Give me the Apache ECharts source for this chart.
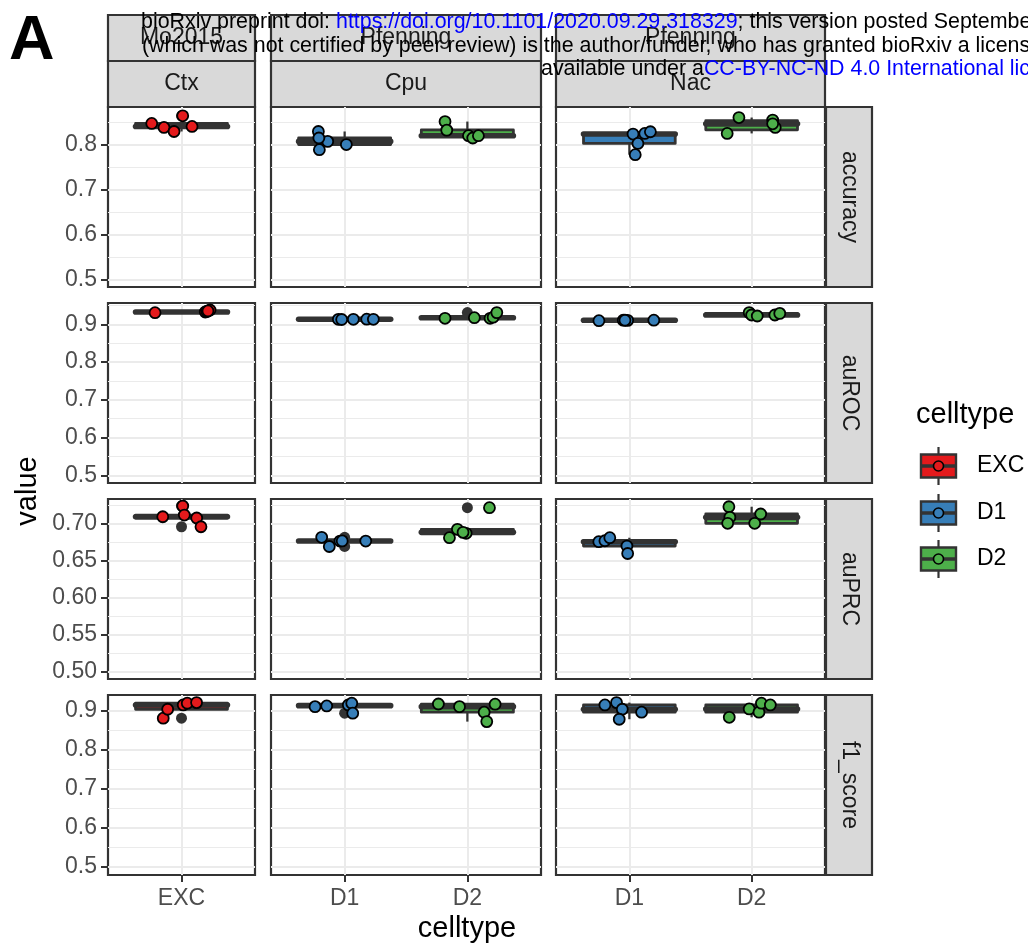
<!DOCTYPE html>
<html>
<head>
<meta charset="utf-8">
<title>celltype metrics</title>
<script src="https://cdn.jsdelivr.net/npm/echarts@6/dist/echarts.min.js"></script>
<style>
  html, body { margin: 0; padding: 0; background: #fff; }
  #chart { width: 1028px; height: 944px; }
</style>
</head>
<body>
<div id="chart"></div>
<script>
var metrics = ['accuracy', 'auROC', 'auPRC', 'f1_score'];
var studies = ['Mo2015', 'Pfenning', 'Pfenning'];
var regions = ['Ctx', 'Cpu', 'Nac'];
var regionCells = [['EXC'], ['D1', 'D2'], ['D1', 'D2']];
var legendCells = ['EXC', 'D1', 'D2'];

// y ticks and limits for each metric row
var accuracyTicks = [0.5, 0.6, 0.7, 0.8];
var aurocTicks = [0.5, 0.6, 0.7, 0.8, 0.9];
var auprcTicks = [0.50, 0.55, 0.60, 0.65, 0.70];
var f1Ticks = [0.5, 0.6, 0.7, 0.8, 0.9];
var accuracyLimits = [0.4844, 0.8844];
var aurocLimits = [0.4796, 0.9565];
var auprcLimits = [0.4895, 0.7340];
var f1Limits = [0.4795, 0.9400];

// jittered points: region, celltype, jitter offset, value
var accuracyPoints = [
  ['Ctx', 'EXC', -0.243, 0.8478], ['Ctx', 'EXC', -0.143, 0.839], ['Ctx', 'EXC', -0.061, 0.830], ['Ctx', 'EXC', 0.010, 0.8648], ['Ctx', 'EXC', 0.086, 0.8412],
  ['Cpu', 'D1', -0.214, 0.830], ['Cpu', 'D1', -0.206, 0.7896], ['Cpu', 'D1', -0.138, 0.808], ['Cpu', 'D1', 0.014, 0.801], ['Cpu', 'D1', -0.21, 0.8155],
  ['Cpu', 'D2', -0.182, 0.852], ['Cpu', 'D2', -0.168, 0.833], ['Cpu', 'D2', 0.009, 0.8206], ['Cpu', 'D2', 0.044, 0.8155], ['Cpu', 'D2', 0.09, 0.8206],
  ['Nac', 'D1', 0.03, 0.8243], ['Nac', 'D1', 0.126, 0.8257], ['Nac', 'D1', 0.172, 0.8294], ['Nac', 'D1', 0.07, 0.8035], ['Nac', 'D1', 0.048, 0.7785],
  ['Nac', 'D2', -0.104, 0.861], ['Nac', 'D2', -0.2, 0.8257], ['Nac', 'D2', 0.172, 0.8553], ['Nac', 'D2', 0.193, 0.839], ['Nac', 'D2', 0.172, 0.847]
];
var aurocPoints = [
  ['Ctx', 'EXC', -0.216, 0.9308], ['Ctx', 'EXC', 0.194, 0.9326], ['Ctx', 'EXC', 0.207, 0.934], ['Ctx', 'EXC', 0.233, 0.9379], ['Ctx', 'EXC', 0.216, 0.9355],
  ['Cpu', 'D1', -0.051, 0.9133], ['Cpu', 'D1', -0.024, 0.9128], ['Cpu', 'D1', 0.071, 0.9133], ['Cpu', 'D1', 0.18, 0.9136], ['Cpu', 'D1', 0.234, 0.9133],
  ['Cpu', 'D2', -0.182, 0.916], ['Cpu', 'D2', 0.057, 0.9175], ['Cpu', 'D2', 0.185, 0.916], ['Cpu', 'D2', 0.21, 0.919], ['Cpu', 'D2', 0.24, 0.931],
  ['Nac', 'D1', -0.249, 0.9096], ['Nac', 'D1', -0.05, 0.911], ['Nac', 'D1', -0.014, 0.9105], ['Nac', 'D1', 0.2, 0.911], ['Nac', 'D1', -0.036, 0.9108],
  ['Nac', 'D2', -0.02, 0.931], ['Nac', 'D2', 0, 0.9247], ['Nac', 'D2', 0.046, 0.922], ['Nac', 'D2', 0.19, 0.9247], ['Nac', 'D2', 0.23, 0.929]
];
var auprcPoints = [
  ['Ctx', 'EXC', -0.153, 0.7099], ['Ctx', 'EXC', 0.01, 0.7245], ['Ctx', 'EXC', 0.023, 0.7122], ['Ctx', 'EXC', 0.124, 0.7082], ['Ctx', 'EXC', 0.159, 0.6963],
  ['Cpu', 'D1', -0.187, 0.682], ['Cpu', 'D1', -0.125, 0.6695], ['Cpu', 'D1', -0.038, 0.6769], ['Cpu', 'D1', 0.172, 0.6769], ['Cpu', 'D1', -0.02, 0.6771],
  ['Cpu', 'D2', -0.146, 0.6814], ['Cpu', 'D2', -0.081, 0.6928], ['Cpu', 'D2', -0.01, 0.6874], ['Cpu', 'D2', 0.18, 0.7222], ['Cpu', 'D2', -0.035, 0.6887],
  ['Nac', 'D1', -0.25, 0.676], ['Nac', 'D1', -0.2, 0.6773], ['Nac', 'D1', -0.16, 0.6814], ['Nac', 'D1', -0.02, 0.6701], ['Nac', 'D1', -0.014, 0.660],
  ['Nac', 'D2', -0.186, 0.7235], ['Nac', 'D2', -0.178, 0.7091], ['Nac', 'D2', -0.196, 0.701], ['Nac', 'D2', 0.074, 0.7136], ['Nac', 'D2', 0.025, 0.701]
];
var f1Points = [
  ['Ctx', 'EXC', -0.149, 0.8806], ['Ctx', 'EXC', -0.113, 0.9036], ['Ctx', 'EXC', 0.014, 0.9146], ['Ctx', 'EXC', 0.047, 0.919], ['Ctx', 'EXC', 0.123, 0.9205],
  ['Cpu', 'D1', -0.241, 0.9102], ['Cpu', 'D1', -0.146, 0.912], ['Cpu', 'D1', 0.03, 0.9146], ['Cpu', 'D1', 0.058, 0.919], ['Cpu', 'D1', 0.066, 0.8934],
  ['Cpu', 'D2', -0.236, 0.917], ['Cpu', 'D2', -0.064, 0.9102], ['Cpu', 'D2', 0.137, 0.896], ['Cpu', 'D2', 0.158, 0.8719], ['Cpu', 'D2', 0.226, 0.9164],
  ['Nac', 'D1', -0.2, 0.9146], ['Nac', 'D1', -0.105, 0.9205], ['Nac', 'D1', -0.058, 0.9036], ['Nac', 'D1', -0.083, 0.878], ['Nac', 'D1', 0.1, 0.896],
  ['Nac', 'D2', -0.183, 0.883], ['Nac', 'D2', -0.02, 0.9043], ['Nac', 'D2', 0.06, 0.896], ['Nac', 'D2', 0.08, 0.919], ['Nac', 'D2', 0.153, 0.9146]
];

// boxplot stats: region, celltype, lower whisker, q1, median, q3, upper whisker
var accuracyBoxes = [
  ['Ctx', 'EXC', 0.830, 0.839, 0.8412, 0.8478, 0.8478],
  ['Cpu', 'D1', 0.7896, 0.801, 0.808, 0.8155, 0.830],
  ['Cpu', 'D2', 0.8155, 0.8195, 0.8206, 0.8335, 0.852],
  ['Nac', 'D1', 0.7785, 0.8035, 0.8243, 0.8257, 0.8294],
  ['Nac', 'D2', 0.8257, 0.8336, 0.847, 0.8543, 0.861]
];
var aurocBoxes = [
  ['Ctx', 'EXC', 0.9308, 0.932, 0.9326, 0.9335, 0.9379],
  ['Cpu', 'D1', 0.9128, 0.9133, 0.9133, 0.9133, 0.9136],
  ['Cpu', 'D2', 0.916, 0.916, 0.9175, 0.919, 0.919],
  ['Nac', 'D1', 0.9096, 0.9105, 0.9108, 0.911, 0.911],
  ['Nac', 'D2', 0.922, 0.9247, 0.9247, 0.929, 0.931]
];
var auprcBoxes = [
  ['Ctx', 'EXC', 0.7082, 0.7082, 0.7099, 0.7122, 0.7122],
  ['Cpu', 'D1', 0.6769, 0.6769, 0.6769, 0.6771, 0.6771],
  ['Cpu', 'D2', 0.6814, 0.6874, 0.6887, 0.6928, 0.6928],
  ['Nac', 'D1', 0.660, 0.6701, 0.676, 0.6773, 0.6814],
  ['Nac', 'D2', 0.701, 0.701, 0.7091, 0.7136, 0.7235]
];
var f1Boxes = [
  ['Ctx', 'EXC', 0.9036, 0.9036, 0.9146, 0.919, 0.9205],
  ['Cpu', 'D1', 0.9102, 0.911, 0.9128, 0.9146, 0.919],
  ['Cpu', 'D2', 0.8719, 0.896, 0.9102, 0.9164, 0.917],
  ['Nac', 'D1', 0.878, 0.896, 0.9036, 0.9146, 0.9205],
  ['Nac', 'D2', 0.883, 0.896, 0.9043, 0.9146, 0.919]
];

// outliers: region, celltype, value
var accuracyOutliers = [['Ctx', 'EXC', 0.8648]];
var aurocOutliers = [['Cpu', 'D2', 0.931]];
var auprcOutliers = [['Ctx', 'EXC', 0.7245], ['Ctx', 'EXC', 0.6963], ['Cpu', 'D1', 0.682], ['Cpu', 'D1', 0.6695], ['Cpu', 'D2', 0.7222]];
var f1Outliers = [['Ctx', 'EXC', 0.8806], ['Cpu', 'D1', 0.8934]];

var cellColors = { EXC: '#E41A1C', D1: '#377EB8', D2: '#4DAF4A' };
var FONT = '"Liberation Sans", Arial, Helvetica, sans-serif';

var rowTicks = [accuracyTicks, aurocTicks, auprcTicks, f1Ticks];
var rowLimits = [accuracyLimits, aurocLimits, auprcLimits, f1Limits];
var rowPoints = [accuracyPoints, aurocPoints, auprcPoints, f1Points];
var rowBoxes = [accuracyBoxes, aurocBoxes, auprcBoxes, f1Boxes];
var rowOutliers = [accuracyOutliers, aurocOutliers, auprcOutliers, f1Outliers];

var colLeft = [108, 271, 556];
var colWidth = [147, 270, 269];
var rowTop = [107, 303, 499, 695];
var rowHeight = 180;
var boxWidth = 0.75;
var boxLine = 2.8;

function minorTicks(ticks) {
  var out = [];
  var step = ticks[1] - ticks[0];
  for (var i = 0; i < ticks.length; i++) {
    out.push(+(ticks[i] - step / 2).toFixed(4));
  }
  out.push(+(ticks[ticks.length - 1] + step / 2).toFixed(4));
  return out;
}

function renderBox(params, api) {
  var x = api.value(0);
  var color = api.visual('color');
  var lo = api.coord([x, api.value(1)]);
  var q1 = api.coord([x - boxWidth / 2, api.value(2)]);
  var med = api.coord([x - boxWidth / 2, api.value(3)]);
  var q3 = api.coord([x + boxWidth / 2, api.value(4)]);
  var hi = api.coord([x, api.value(5)]);
  return {
    type: 'group',
    children: [
      { type: 'line', shape: { x1: lo[0], y1: lo[1], x2: lo[0], y2: q1[1] }, style: { stroke: '#333333', lineWidth: boxLine * 0.8 } },
      { type: 'line', shape: { x1: hi[0], y1: hi[1], x2: hi[0], y2: q3[1] }, style: { stroke: '#333333', lineWidth: boxLine * 0.8 } },
      { type: 'rect', shape: { x: q1[0], y: q3[1], width: q3[0] - q1[0], height: q1[1] - q3[1] },
        style: { fill: color, stroke: '#333333', lineWidth: boxLine, lineJoin: 'round' } },
      { type: 'line', shape: { x1: q1[0], y1: med[1], x2: q3[0], y2: med[1] },
        style: { stroke: '#333333', lineWidth: boxLine * 2, lineCap: 'round' } }
    ]
  };
}

var grids = [], xAxes = [], yAxes = [], series = [], graphics = [];

for (var r = 0; r < metrics.length; r++) {
  for (var c = 0; c < regions.length; c++) {
    var gi = r * regions.length + c;
    var cells = regionCells[c];
    var cellPos = cells.map(function (d, k) { return k + 1; });
    var ticks = rowTicks[r];
    var digits = r === 2 ? 2 : 1;
    grids.push({
      left: colLeft[c], top: rowTop[r], width: colWidth[c], height: rowHeight,
      containLabel: false, outerBoundsMode: 'none',
      show: true, backgroundColor: '#ffffff', borderColor: '#333333', borderWidth: 2.2
    });
    xAxes.push({
      gridIndex: gi, type: 'value', min: 0.4, max: cells.length + 0.6,
      axisLine: { show: false },
      axisTick: { show: r === metrics.length - 1, customValues: cellPos, length: 7, lineStyle: { color: '#333333', width: 2 } },
      axisLabel: {
        show: r === metrics.length - 1, customValues: cellPos, margin: 12,
        color: '#4D4D4D', fontSize: 23, fontFamily: FONT,
        formatter: (function (cs) { return function (v) { return cs[Math.round(v) - 1]; }; })(cells)
      },
      splitLine: { show: true, lineStyle: { color: '#EBEBEB', width: 2 } }
    });
    yAxes.push({
      gridIndex: gi, type: 'value', min: rowLimits[r][0], max: rowLimits[r][1], position: 'left',
      axisLine: { show: false },
      axisTick: { show: c === 0, customValues: ticks, length: 7, lineStyle: { color: '#333333', width: 2 } },
      axisLabel: {
        show: c === 0, customValues: ticks, margin: 11,
        color: '#4D4D4D', fontSize: 23, fontFamily: FONT,
        formatter: (function (dg) { return function (v) { return v.toFixed(dg); }; })(digits)
      },
      splitLine: { show: true, lineStyle: { color: '#EBEBEB', width: 2 } }
    });
    // minor grid lines
    yAxes.push({
      gridIndex: gi, type: 'value', min: rowLimits[r][0], max: rowLimits[r][1], position: 'left',
      axisLine: { show: false },
      axisTick: { show: false, customValues: minorTicks(ticks) },
      axisLabel: { show: false },
      splitLine: { show: true, lineStyle: { color: '#EBEBEB', width: 1.1 } }
    });

    cells.forEach(function (cell, k) {
      var boxRows = rowBoxes[r].filter(function (b) { return b[0] === regions[c] && b[1] === cell; });
      series.push({
        type: 'custom', xAxisIndex: gi, yAxisIndex: gi * 2, z: 2, silent: true,
        itemStyle: { color: cellColors[cell] },
        renderItem: renderBox,
        encode: { x: 0, y: [1, 2, 3, 4, 5] },
        data: boxRows.map(function (b) { return [k + 1, b[2], b[3], b[4], b[5], b[6]]; })
      });
      var outs = rowOutliers[r].filter(function (o) { return o[0] === regions[c] && o[1] === cell; });
      series.push({
        type: 'scatter', xAxisIndex: gi, yAxisIndex: gi * 2, z: 3, silent: true,
        symbolSize: 11, itemStyle: { color: '#333333', opacity: 1 },
        data: outs.map(function (o) { return [k + 1, o[2]]; })
      });
      var pts = rowPoints[r].filter(function (p) { return p[0] === regions[c] && p[1] === cell; });
      series.push({
        type: 'scatter', xAxisIndex: gi, yAxisIndex: gi * 2, z: 4, silent: true,
        symbolSize: 11, itemStyle: { color: cellColors[cell], borderColor: '#000000', borderWidth: 1.8, opacity: 1 },
        data: pts.map(function (p) { return [k + 1 + p[2], p[3]]; })
      });
    });
  }
}

// facet strips
var stripFill = '#D9D9D9';
for (var c2 = 0; c2 < regions.length; c2++) {
  graphics.push({ type: 'rect', shape: { x: colLeft[c2], y: 15, width: colWidth[c2], height: 46 },
    style: { fill: stripFill, stroke: '#333333', lineWidth: 2.2 } });
  graphics.push({ type: 'text', x: colLeft[c2] + colWidth[c2] / 2, y: 38,
    style: { text: studies[c2], fill: '#1A1A1A', fontSize: 23, fontFamily: FONT, textAlign: 'center', textVerticalAlign: 'middle' } });
  graphics.push({ type: 'rect', shape: { x: colLeft[c2], y: 61, width: colWidth[c2], height: 46 },
    style: { fill: stripFill, stroke: '#333333', lineWidth: 2.2 } });
  graphics.push({ type: 'text', x: colLeft[c2] + colWidth[c2] / 2, y: 84,
    style: { text: regions[c2], fill: '#1A1A1A', fontSize: 23, fontFamily: FONT, textAlign: 'center', textVerticalAlign: 'middle' } });
}
for (var r2 = 0; r2 < metrics.length; r2++) {
  graphics.push({ type: 'rect', shape: { x: 826, y: rowTop[r2], width: 46, height: rowHeight },
    style: { fill: stripFill, stroke: '#333333', lineWidth: 2.2 } });
  graphics.push({ type: 'text', x: 849, y: rowTop[r2] + rowHeight / 2, rotation: -Math.PI / 2,
    style: { text: metrics[r2], fill: '#1A1A1A', fontSize: 23, fontFamily: FONT, textAlign: 'center', textVerticalAlign: 'middle' } });
}

// axis titles
graphics.push({ type: 'text', x: 28, y: 491, rotation: Math.PI / 2,
  style: { text: 'value', fill: '#000000', fontSize: 29, fontFamily: FONT, textAlign: 'center', textVerticalAlign: 'middle' } });
graphics.push({ type: 'text', x: 467, y: 929,
  style: { text: 'celltype', fill: '#000000', fontSize: 29, fontFamily: FONT, textAlign: 'center', textVerticalAlign: 'middle' } });

// legend
graphics.push({ type: 'text', x: 916, y: 415,
  style: { text: 'celltype', fill: '#000000', fontSize: 29, fontFamily: FONT, textAlign: 'left', textVerticalAlign: 'middle' } });
var keyY = [466, 513, 559];
legendCells.forEach(function (cell, i) {
  var cy = keyY[i];
  graphics.push({ type: 'line', shape: { x1: 938.5, y1: cy - 19, x2: 938.5, y2: cy + 19 }, style: { stroke: '#333333', lineWidth: 2.2 } });
  graphics.push({ type: 'rect', shape: { x: 921, y: cy - 11.5, width: 35, height: 23 },
    style: { fill: cellColors[cell], stroke: '#333333', lineWidth: 2.4 } });
  graphics.push({ type: 'line', shape: { x1: 921, y1: cy, x2: 956, y2: cy }, style: { stroke: '#333333', lineWidth: 3.5 } });
  graphics.push({ type: 'circle', shape: { cx: 938.5, cy: cy, r: 5 }, style: { fill: cellColors[cell], stroke: '#000000', lineWidth: 1.6 } });
  graphics.push({ type: 'text', x: 977, y: cy,
    style: { text: cell, fill: '#000000', fontSize: 23, fontFamily: FONT, textAlign: 'left', textVerticalAlign: 'middle' } });
});

// panel label and preprint watermark
graphics.push({ type: 'text', x: 9, y: 42,
  style: { text: 'A', fill: '#000000', fontSize: 63, fontWeight: 'bold', fontFamily: FONT, textAlign: 'left', textVerticalAlign: 'middle' } });
var wmRich = { k: { fill: '#000000', fontSize: 21.4, fontFamily: FONT }, b: { fill: '#0000FF', fontSize: 21.4, fontFamily: FONT } };
graphics.push({ type: 'text', x: 141, y: 22, z: 100,
  style: { text: '{k|bioRxiv preprint doi: }{b|https://doi.org/10.1101/2020.09.29.318329}{k|; this version posted September}',
    rich: wmRich, textAlign: 'left', textVerticalAlign: 'middle' } });
graphics.push({ type: 'text', x: 142, y: 46, z: 100,
  style: { text: '{k|(which was not certified by peer review) is the author/funder, who has granted bioRxiv a license}',
    rich: wmRich, textAlign: 'left', textVerticalAlign: 'middle' } });
graphics.push({ type: 'text', x: 541, y: 69, z: 100,
  style: { text: '{k|available under a}{b|CC-BY-NC-ND 4.0 International license}',
    rich: wmRich, textAlign: 'left', textVerticalAlign: 'middle' } });

var myChart = echarts.init(document.getElementById('chart'), null, { renderer: 'canvas' });
var option = {
  animation: false,
  backgroundColor: '#ffffff',
  textStyle: { fontFamily: FONT },
  grid: grids,
  xAxis: xAxes,
  yAxis: yAxes,
  series: series,
  graphic: { elements: graphics }
};
myChart.setOption(option);
window.addEventListener('resize', function () {
  myChart.resize();
});
</script>
</body>
</html>
